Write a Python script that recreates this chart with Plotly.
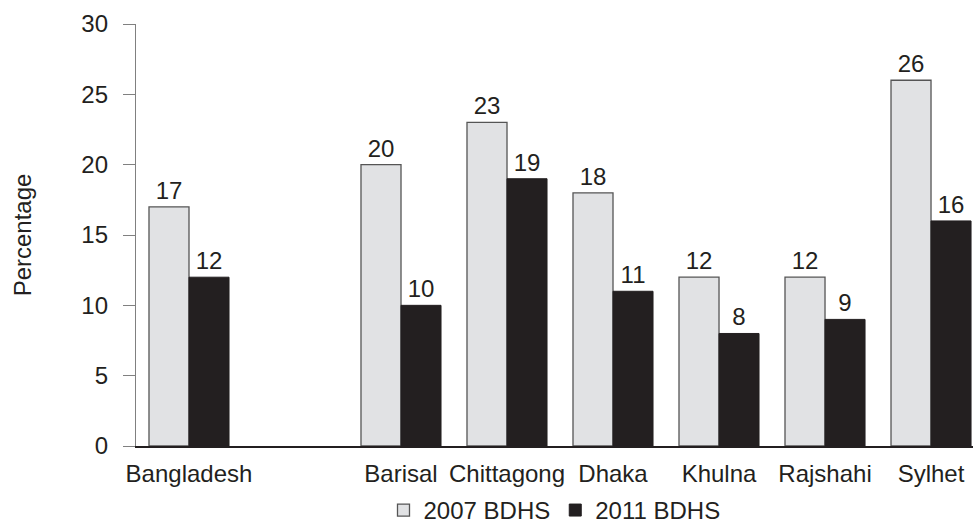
import plotly.graph_objects as go

categories = ["Bangladesh", " ", "Barisal", "Chittagong", "Dhaka", "Khulna", "Rajshahi", "Sylhet"]
bdhs_2007 = [17, None, 20, 23, 18, 12, 12, 26]
bdhs_2011 = [12, None, 10, 19, 11, 8, 9, 16]
series_names = ["2007 BDHS", "2011 BDHS"]
y_ticks = [0, 5, 10, 15, 20, 25, 30]

FONT = "Liberation Sans, Arial, Helvetica, sans-serif"
INK = "#231f20"
FS = 24

fig = go.Figure()
fig.add_trace(go.Bar(
    x=categories, y=bdhs_2007, name=series_names[0],
    marker=dict(color="#e1e2e4", line=dict(color="#555555", width=1.3)),
    text=bdhs_2007, textposition="outside", cliponaxis=False,
    textfont=dict(family=FONT, size=FS, color=INK),
))
fig.add_trace(go.Bar(
    x=categories, y=bdhs_2011, name=series_names[1],
    marker=dict(color=INK, line=dict(color=INK, width=1)),
    text=bdhs_2011, textposition="outside", cliponaxis=False,
    textfont=dict(family=FONT, size=FS, color=INK),
))

fig.update_layout(
    width=973, height=523,
    margin=dict(l=136, r=0, t=24, b=77),
    paper_bgcolor="white", plot_bgcolor="white",
    barmode="group", bargap=0.245, bargroupgap=0,
    font=dict(family=FONT, size=FS, color=INK),
    showlegend=True,
    legend=dict(orientation="h", x=0.5, xanchor="center", xref="paper",
                y=0.024, yanchor="middle", yref="container",
                font=dict(family=FONT, size=FS, color=INK),
                itemwidth=30, traceorder="normal", tracegroupgap=0),
)
fig.update_xaxes(
    type="category", range=[-0.5, 7.396],
    showline=True, linecolor=INK, linewidth=1.5,
    ticks="", showgrid=False, zeroline=False,
    ticklabelstandoff=5,
    tickfont=dict(family=FONT, size=FS, color=INK),
    automargin=False,
)
fig.update_yaxes(
    range=[0, 30], tickvals=y_ticks,
    showline=True, linecolor="#808080", linewidth=1.3,
    ticks="outside", ticklen=12, tickcolor="#808080", tickwidth=1.3,
    ticklabelstandoff=10,
    showgrid=False, zeroline=False,
    tickfont=dict(family=FONT, size=FS, color=INK),
    title=dict(text="Percentage", standoff=42, font=dict(family=FONT, size=FS, color=INK)),
    automargin=False,
)

fig.write_html("out.html", config={"displayModeBar": False},
               post_script="document.body.style.margin='0';document.body.style.overflow='hidden';")
